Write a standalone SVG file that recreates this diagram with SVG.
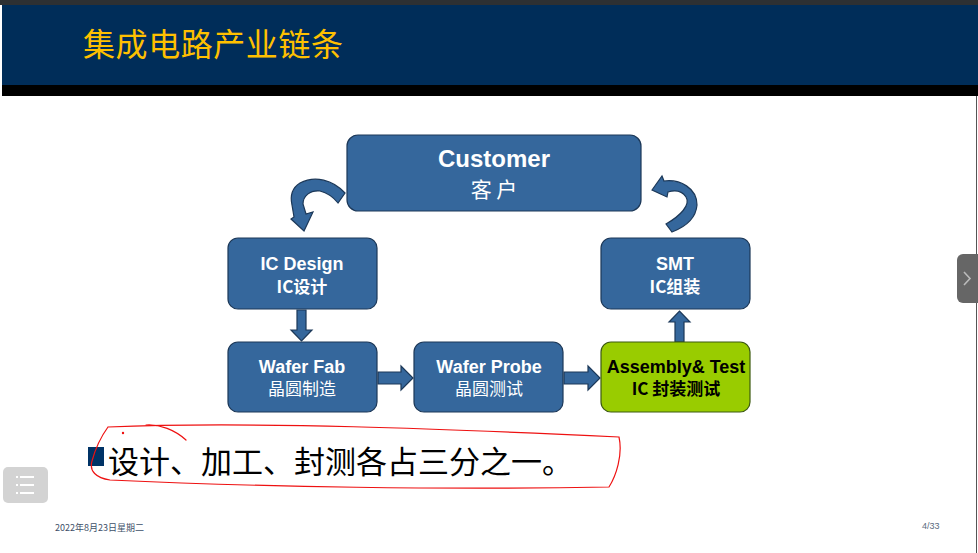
<svg xmlns="http://www.w3.org/2000/svg" width="978" height="553" viewBox="0 0 978 553">
  <style>
    .box { fill: #35679c; stroke: #1c3858; stroke-width: 1.2; }
    .box-green { fill: #99cc00; stroke: #3c5a10; stroke-width: 1.2; }
    .en { font-family: "Liberation Sans", Arial, sans-serif; font-weight: bold; fill: #ffffff; text-anchor: middle; }
    .zh { font-family: "Noto Sans CJK SC", "Liberation Sans", sans-serif; fill: #ffffff; text-anchor: middle; }
    .dark { fill: #000000; }
    .arrow { fill: #35679c; stroke: #1c3858; stroke-width: 1.2; stroke-linejoin: miter; }
  </style>

  <!-- slide background and header bands -->
  <rect x="0" y="0" width="978" height="553" fill="#ffffff"/>
  <rect x="0" y="0" width="978" height="5" fill="#2d3033"/>
  <rect x="2" y="5" width="976" height="80" fill="#002d59"/>
  <rect x="2" y="85" width="976" height="11" fill="#000000"/>
  <line x1="976.5" y1="96" x2="976.5" y2="553" stroke="#555555" stroke-width="1"/>
  <text x="83" y="56" font-family="Noto Sans CJK SC, sans-serif" font-size="32" fill="#ffc000" textLength="260">集成电路产业链条</text>

  <!-- connectors -->
  <g id="connectors">
    <!-- Customer -> IC Design (curved) -->
    <path class="arrow" d="M345,193 C333,180 315,175 300,183 C292,188 290,196 292,205 L294,217 L291,219 L304,231 L313,212 L306,214 L303,204 C303,196 310,190 320,191 C328,193 334,198 338,203 Z"/>
    <!-- SMT -> Customer (curved) -->
    <path class="arrow" d="M652,190 L662,176 L664,181 C680,179 697,188 697,205 C696,218 685,227 672,232 L666,224 C680,216 691,205 686,197 C682,191 675,190 668,192 L667,197 Z"/>
    <!-- IC Design -> Wafer Fab -->
    <path class="arrow" d="M297,310 L306,310 L306,330 L312,330 L301.5,341 L291,330 L297,330 Z"/>
    <!-- Wafer Fab -> Wafer Probe -->
    <path class="arrow" d="M378,372 L401,372 L401,366 L413,378 L401,390 L401,384 L378,384 Z"/>
    <!-- Wafer Probe -> Assembly & Test -->
    <path class="arrow" d="M564,372 L588,372 L588,366 L600,378 L588,390 L588,384 L564,384 Z"/>
    <!-- Assembly & Test -> SMT -->
    <path class="arrow" d="M675,342 L675,322 L669,322 L679.5,311 L690,322 L684,322 L684,342 Z"/>
  </g>

  <g id="customer">
    <rect class="box" x="347" y="135" width="294" height="76" rx="11"/>
    <text class="en" x="494" y="167" font-size="24">Customer</text>
    <text class="zh" x="494" y="197" font-size="21">客 户</text>
  </g>

  <g id="ic-design">
    <rect class="box" x="228" y="238" width="149" height="71" rx="10"/>
    <text class="en" x="302" y="270" font-size="18">IC Design</text>
    <text class="zh" x="302" y="293" font-size="17" font-weight="bold">IC设计</text>
  </g>

  <g id="smt">
    <rect class="box" x="601" y="238" width="149" height="71" rx="10"/>
    <text class="en" x="675" y="270" font-size="18">SMT</text>
    <text class="zh" x="675" y="293" font-size="17" font-weight="bold">IC组装</text>
  </g>

  <g id="wafer-fab">
    <rect class="box" x="228" y="342" width="149" height="70" rx="10"/>
    <text class="en" x="302" y="373" font-size="18">Wafer Fab</text>
    <text class="zh" x="302" y="395" font-size="17">晶圆制造</text>
  </g>

  <g id="wafer-probe">
    <rect class="box" x="414" y="342" width="149" height="70" rx="10"/>
    <text class="en" x="489" y="373" font-size="18">Wafer Probe</text>
    <text class="zh" x="489" y="395" font-size="17">晶圆测试</text>
  </g>

  <g id="assembly-test">
    <rect class="box-green" x="601" y="342" width="149" height="70" rx="10"/>
    <text class="en dark" x="676" y="373" font-size="18">Assembly&amp; Test</text>
    <text class="zh dark" x="676" y="395" font-size="17" font-weight="bold">IC 封装测试</text>
  </g>

  <!-- bullet line -->
  <rect x="88" y="447" width="16" height="19" fill="#003366"/>
  <text x="108" y="473" font-family="Noto Sans CJK SC, sans-serif" font-size="31" fill="#000000">设计、加工、封测各占三分之一。</text>

  <!-- hand-drawn red outline -->
  <g fill="none" stroke="#ee1111" stroke-width="1.2" stroke-linecap="round">
    <path d="M108,427 C250,421 450,429 619,437 C623,455 616,476 609,487 C450,490 260,487 110,480 C96,478 89,471 92,461 C95,450 100,438 108,427"/>
    <path d="M146,425 C160,424 175,430 186,440"/>
    <circle cx="123" cy="433" r="0.6"/>
  </g>

  <!-- viewer controls -->
  <rect x="3" y="467" width="45" height="36" rx="5" fill="#d3d3d3"/>
  <g stroke="#ffffff" stroke-width="2">
    <line x1="16" y1="477" x2="18" y2="477"/>
    <line x1="20" y1="477" x2="34" y2="477"/>
    <line x1="16" y1="485" x2="18" y2="485"/>
    <line x1="20" y1="485" x2="34" y2="485"/>
    <line x1="16" y1="493" x2="18" y2="493"/>
    <line x1="20" y1="493" x2="34" y2="493"/>
  </g>
  <rect x="957" y="254" width="30" height="49" rx="6" fill="#666666"/>
  <path d="M964,272 L970,278.5 L964,285" fill="none" stroke="#bbbbbb" stroke-width="1.6"/>

  <!-- footer -->
  <text x="55" y="531" font-family="Noto Sans CJK SC, sans-serif" font-size="9" fill="#3d5068">2022年8月23日星期二</text>
  <text x="922" y="529" font-family="Liberation Sans, sans-serif" font-size="9" fill="#5a6b80">4/33</text>
</svg>
